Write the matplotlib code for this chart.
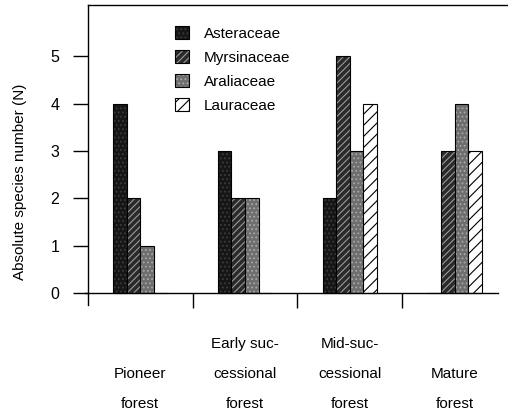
import numpy as np
from matplotlib import pyplot as plt
from matplotlib.patches import Patch

plt.rcParams['font.family'] = ['Liberation Sans', 'DejaVu Sans']

stages = ['\nPioneer\nforest', 'Early suc-\ncessional\nforest',
          'Mid-suc-\ncessional\nforest', '\nMature\nforest']
families = ['Asteraceae', 'Myrsinaceae', 'Araliaceae', 'Lauraceae']
asteraceae = [4, 3, 2, 0]
myrsinaceae = [2, 2, 5, 3]
araliaceae = [1, 2, 3, 4]
lauraceae = [0, 0, 4, 3]
werte = [asteraceae, myrsinaceae, araliaceae, lauraceae]

# fill colour, hatch colour, hatch
stil = [('#161616', '#3c3c3c', '....'),
        ('#2a2a2a', '#9a9a9a', '/////'),
        ('#6e6e6e', '#a8a8a8', '....'),
        ('white', 'black', '///')]

fig = plt.figure(figsize=(5.08, 4.12), dpi=100)
ax = fig.add_axes([0.173, 0.26, 0.827, 0.728])

x = np.arange(len(stages))
w = 0.13
handles = []
for i, (vals, (fc, hc, h)) in enumerate(zip(werte, stil)):
    pos = x + (i - 1.5) * w
    plt.rcParams['hatch.linewidth'] = 0.8
    ax.bar(pos, vals, w, color=fc, hatch=h, edgecolor=hc, linewidth=0)
    ax.bar(pos, vals, w, fill=False, edgecolor='black', linewidth=0.8)
    p1 = Patch(facecolor=fc, hatch=h, edgecolor=hc, linewidth=0)
    p2 = Patch(fill=False, edgecolor='black', linewidth=0.8)
    handles.append((p1, p2))

ax.set_xlim(-0.5, 3.51)
ax.set_ylim(-0.25, 6.08)
ax.spines['right'].set_visible(False)
ax.spines['bottom'].set_position(('data', 0))
ax.spines['bottom'].set_bounds(-0.53, 3.41)
for s in ax.spines.values():
    s.set_linewidth(1.0)

ax.set_yticks(range(6))
ax.tick_params(axis='y', direction='out', length=10.5, width=1, labelsize=11.5, pad=10)
ax.set_xticks(x)
ax.set_xticklabels(stages, fontsize=11, linespacing=2.45)
ax.set_xticks([0.5, 1.5, 2.5], minor=True)
ax.tick_params(axis='x', which='major', length=0, pad=32)
ax.tick_params(axis='x', which='minor', direction='out', length=10.5, width=1)

ax.set_ylabel('Absolute species number (N)', fontsize=11)
ax.yaxis.set_label_coords(-0.145, 0.41)

ax.legend(handles, families, loc='upper left', bbox_to_anchor=(0.175, 0.975),
          frameon=False, fontsize=11, handlelength=0.9, handleheight=0.9,
          handletextpad=1.0, labelspacing=0.62)

fig.savefig('out.png', dpi=100)
